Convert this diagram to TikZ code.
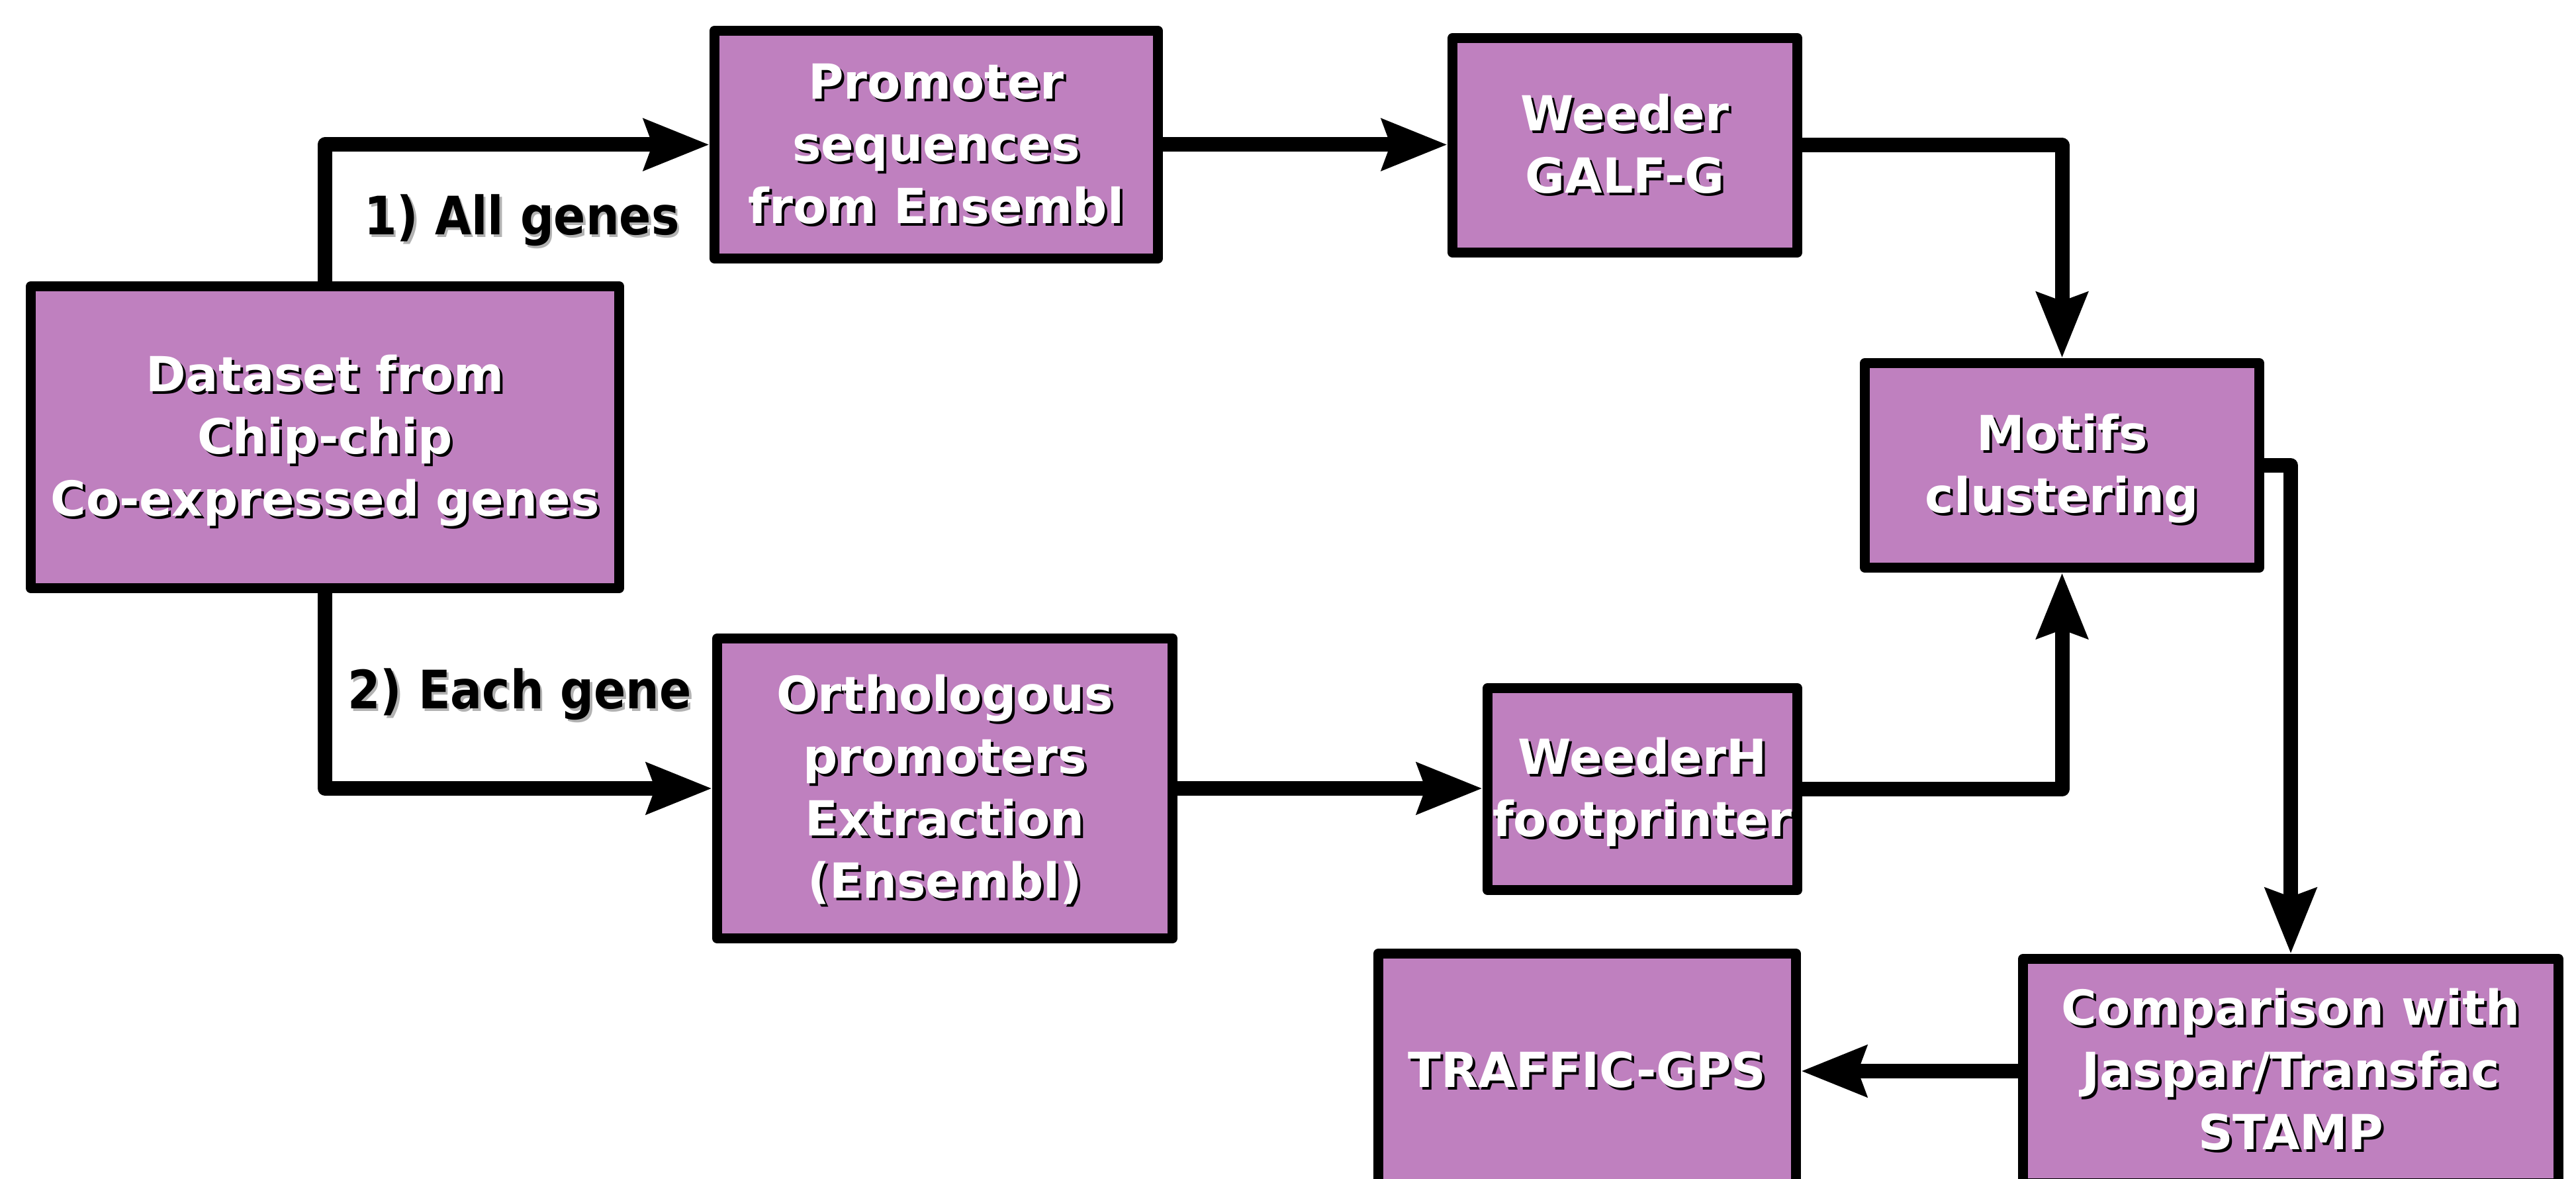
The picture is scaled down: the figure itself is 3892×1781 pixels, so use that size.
\documentclass[tikz,border=0pt]{standalone}
\usepackage{fontspec}
\setmainfont{DejaVu Sans}
\usetikzlibrary{arrows.meta,calc}
\definecolor{boxfill}{RGB}{191,128,191}
\definecolor{shadowgray}{RGB}{178,178,178}
\newcommand\shad[1]{\raisebox{-4pt}[\height][\depth]{\rlap{\kern2pt\raisebox{-2pt}{\color{black}\begin{tabular}{@{}c@{}}#1\end{tabular}}}\begin{tabular}{@{}c@{}}#1\end{tabular}}}
\newcommand\lshad[1]{\scalebox{0.89}[1]{\rlap{\kern2pt\raisebox{-2pt}{\color{shadowgray}#1}}#1}}
\tikzset{
  box/.style={draw=black, line width=7.5pt, fill=boxfill, inner sep=0pt, text=white,
    font=\bfseries\fontsize{36.5}{47}\selectfont, line join=round},
  conn/.style={line width=11pt, line join=round, -{Stealth[length=49pt,width=37.5pt,inset=6pt]}},
  lbl/.style={font=\bfseries\fontsize{40}{48}\selectfont, inner sep=0pt, anchor=base west},
}
\begin{document}
\begin{tikzpicture}[x=0.5pt, y=-0.5pt]
\useasboundingbox (0,0) rectangle (3892,1781);
\clip (0,0) rectangle (3892,1781);
\node[box, minimum width=444.5pt, minimum height=228pt] (ds) at (491,660.5) {\shad{Dataset from\\Chip-chip\\Co-expressed genes}};
\node[box, minimum width=335pt, minimum height=172pt] (prom) at (1414.5,218.5) {\shad{Promoter\\sequences\\from Ensembl}};
\node[box, minimum width=260.5pt, minimum height=162pt] (wd) at (2455,219.5) {\shad{Weeder\\GALF-G}};
\node[box, minimum width=298pt, minimum height=154.5pt] (mot) at (3115.5,703) {\shad{Motifs\\clustering}};
\node[box, minimum width=344pt, minimum height=226.5pt] (orth) at (1427.5,1191) {\shad{Orthologous\\promoters\\Extraction\\(Ensembl)}};
\node[box, minimum width=234pt, minimum height=152.5pt] (wdh) at (2481.5,1192) {\shad{WeederH\\footprinter}};
\node[box, minimum width=404.5pt, minimum height=169.5pt] (comp) at (3461,1618) {\shad{Comparison with\\Jaspar/Transfac\\STAMP}};
\node[box, minimum width=315.5pt, minimum height=177.5pt] (traf) at (2398,1618) {\shad{TRAFFIC-GPS}};
\draw[conn] (ds.north) |- (prom.west);
\draw[conn] (ds.south) |- (orth.west);
\draw[conn] (prom.east) -- (prom.east -| wd.west);
\draw[conn] (wd.east) -| (mot.north);
\draw[conn] (orth.east) -- (orth.east -| wdh.west);
\draw[conn] (wdh.east) -| (mot.south);
\draw[conn] (mot.east) -| (comp.north);
\draw[conn] (comp.west) -- (traf.east);
\node[lbl] (l1) at (550,355) {\lshad{1) All genes}};
\node[lbl] (l2) at (525,1070) {\lshad{2) Each gene}};
\end{tikzpicture}
\end{document}
